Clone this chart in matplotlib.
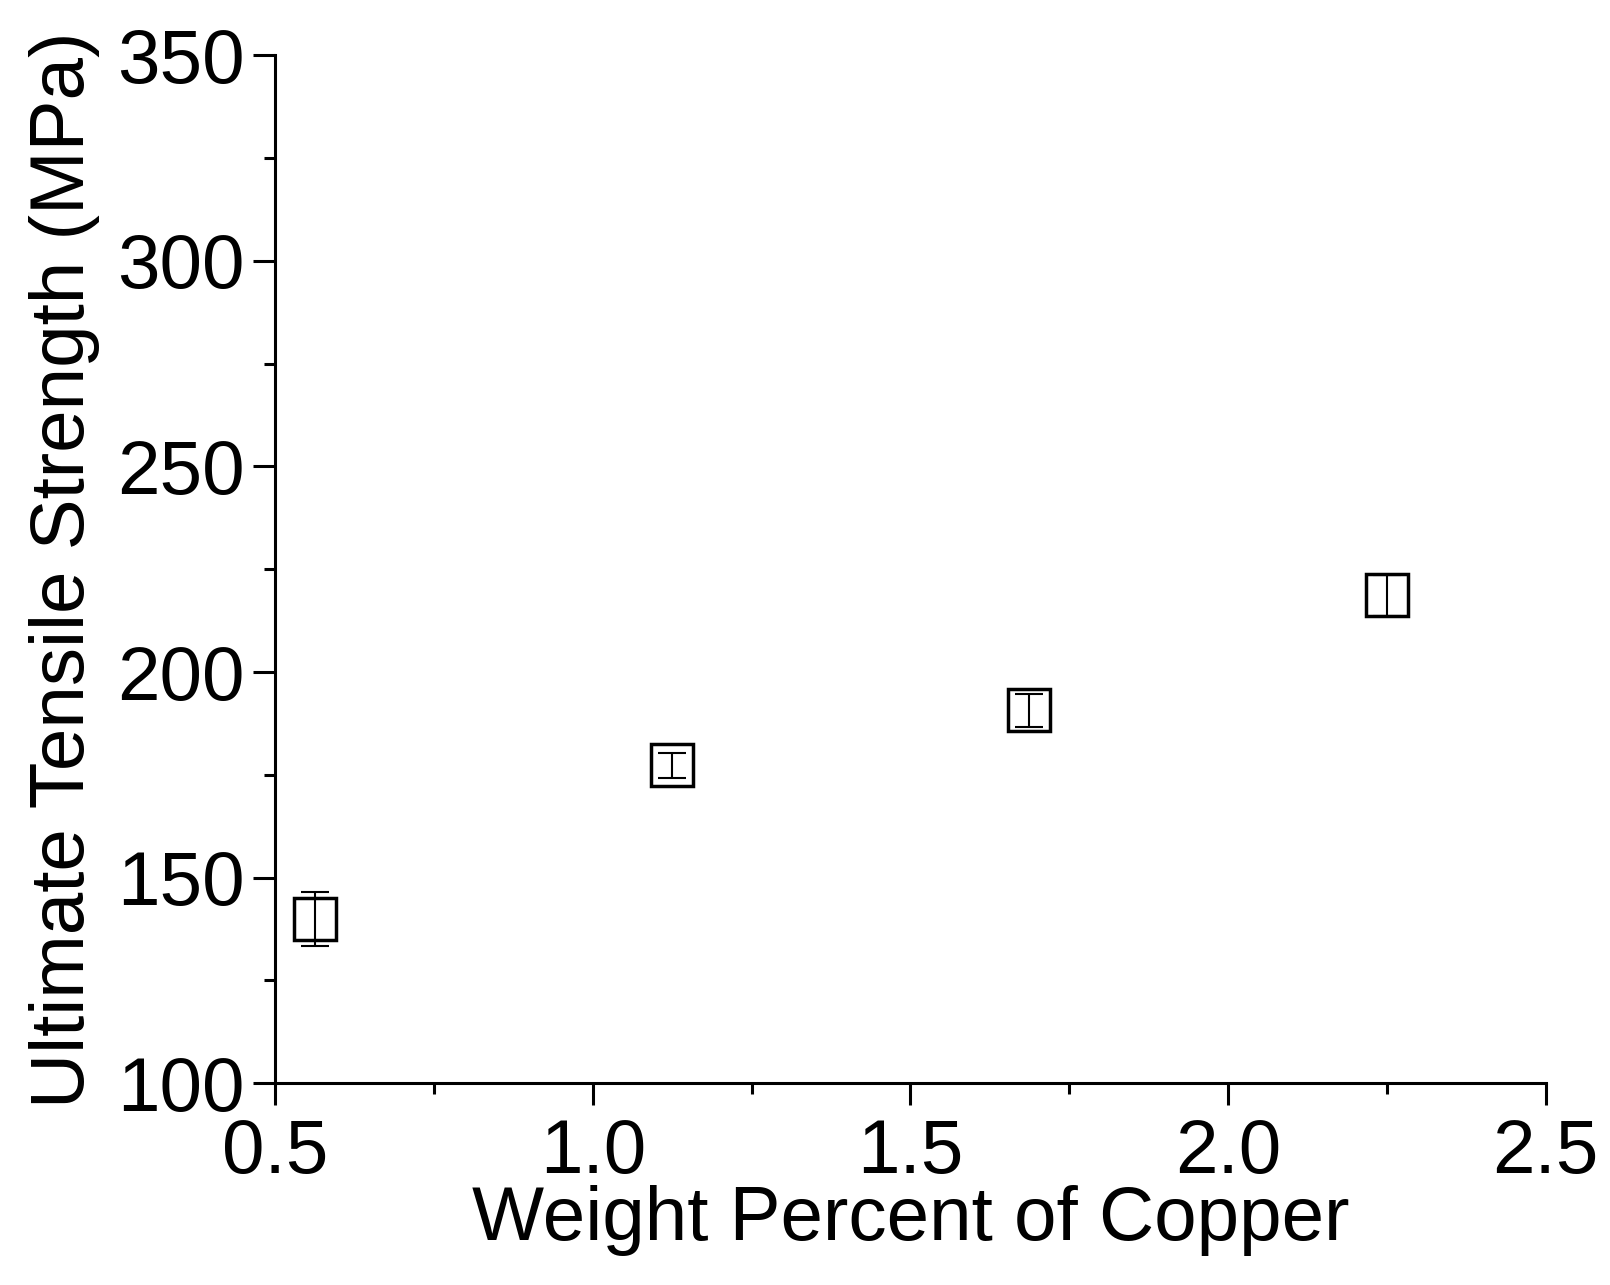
import matplotlib.pyplot as plt
from matplotlib.ticker import MultipleLocator

plt.rcParams['font.family'] = ['Liberation Sans', 'DejaVu Sans']

# data
copper_wt = [0.563, 1.125, 1.687, 2.251]
uts = [140.0, 177.3, 190.7, 218.7]
uts_err = [6.5, 3.0, 4.0, 5.0]

fig = plt.figure(figsize=(16.1, 12.85), dpi=100)
ax = fig.add_axes([0.171, 0.157, 0.789, 0.800])

ax.errorbar(copper_wt, uts, yerr=uts_err, fmt='none', ecolor='black',
            elinewidth=1.5, capsize=10, capthick=1.5, zorder=2)
ax.plot(copper_wt, uts, linestyle='none', marker='s', markersize=30,
        markerfacecolor='none', markeredgecolor='black', markeredgewidth=2.5, zorder=3)

ax.set_xlim(0.5, 2.5)
ax.set_ylim(100, 350)
ax.xaxis.set_major_locator(MultipleLocator(0.5))
ax.xaxis.set_minor_locator(MultipleLocator(0.25))
ax.yaxis.set_major_locator(MultipleLocator(50))
ax.yaxis.set_minor_locator(MultipleLocator(25))

ax.spines['top'].set_visible(False)
ax.spines['right'].set_visible(False)
for s in ['left', 'bottom']:
    ax.spines[s].set_linewidth(2.2)

ax.tick_params(which='major', direction='out', length=16, width=2.2,
               labelsize=55, pad=6)
ax.tick_params(axis='x', which='major', pad=9)
ax.tick_params(which='minor', direction='out', length=8, width=2.2)

ax.set_xlabel('Weight Percent of Copper', fontsize=55, labelpad=-3)
ax.set_ylabel('Ultimate Tensile Strength (MPa)', fontsize=55, labelpad=12)

fig.savefig('out.png', dpi=100)
